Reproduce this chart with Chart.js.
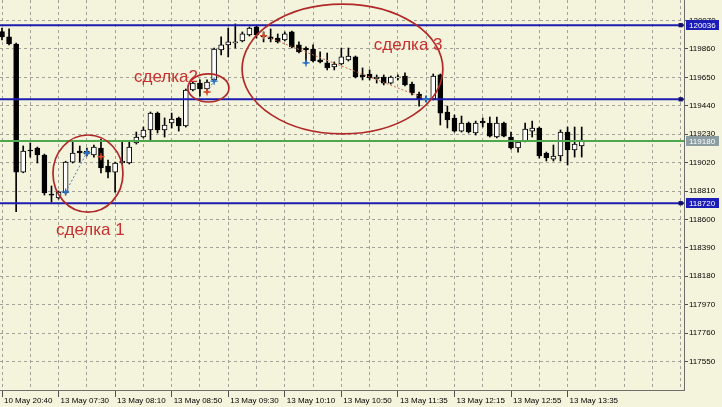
<!DOCTYPE html>
<html><head><meta charset="utf-8">
<script src="https://cdn.jsdelivr.net/npm/chart.js@4.4.1/dist/chart.umd.min.js"></script>
<style>html,body{margin:0;padding:0;background:#f4f4dc;}#wrap{width:722px;height:407px;position:relative;}</style>
</head><body><div id="wrap"><canvas id="c"></canvas></div>
<script>
const categories = [
'10 May 20:40','10 May 20:45','10 May 20:50','10 May 20:55','13 May 07:10','13 May 07:15','13 May 07:20','13 May 07:25',
'13 May 07:30','13 May 07:35','13 May 07:40','13 May 07:45','13 May 07:50','13 May 07:55','13 May 08:00','13 May 08:05',
'13 May 08:10','13 May 08:15','13 May 08:20','13 May 08:25','13 May 08:30','13 May 08:35','13 May 08:40','13 May 08:45',
'13 May 08:50','13 May 08:55','13 May 09:00','13 May 09:05','13 May 09:10','13 May 09:15','13 May 09:20','13 May 09:25',
'13 May 09:30','13 May 09:35','13 May 09:40','13 May 09:45','13 May 09:50','13 May 09:55','13 May 10:00','13 May 10:05',
'13 May 10:10','13 May 10:15','13 May 10:20','13 May 10:25','13 May 10:30','13 May 10:35','13 May 10:40','13 May 10:45',
'13 May 10:50','13 May 10:55','13 May 11:00','13 May 11:05','13 May 11:15','13 May 11:20','13 May 11:25','13 May 11:30',
'13 May 11:35','13 May 11:40','13 May 11:45','13 May 11:50','13 May 11:55','13 May 12:00','13 May 12:05','13 May 12:10',
'13 May 12:15','13 May 12:20','13 May 12:25','13 May 12:30','13 May 12:35','13 May 12:40','13 May 12:45','13 May 12:50',
'13 May 12:55','13 May 13:00','13 May 13:05','13 May 13:10','13 May 13:15','13 May 13:20','13 May 13:25','13 May 13:30',
'13 May 13:35','13 May 13:40','13 May 13:45'];
const opens = [119989,119949,119897,118950,119113,119128,119076,118787,118758,118795,119024,119106,119083,119076,119128,118995,
118950,119017,119017,119165,119209,119261,119386,119261,119313,119350,119291,119557,119608,119564,119631,119853,
119890,119904,119919,119964,120023,119956,119949,119941,119927,119986,119890,119867,119860,119779,119757,119727,
119749,119779,119801,119668,119675,119638,119653,119608,119646,119660,119601,119527,119490,119490,119668,119394,
119350,119253,119313,119239,119327,119313,119209,119313,119209,119128,119180,119253,119276,119091,119046,119069,
119246,119113,119143];
const highs = [120015,120008,119904,119143,119165,119135,119083,118847,118810,119030,119180,119143,119128,119150,119194,119039,
119024,119172,119172,119246,119283,119394,119394,119350,119386,119357,119564,119616,119631,119631,119867,119949,
120015,120045,119986,120023,120030,119986,120008,119971,119986,119993,119912,119875,119890,119838,119830,119764,
119867,119867,119808,119720,119705,119668,119668,119660,119668,119683,119616,119542,119512,119675,119675,119438,
119372,119364,119320,119327,119350,119357,119357,119320,119246,119180,119313,119327,119283,119098,119150,119261,
119283,119283,119283];
const lows = [119927,119890,118657,118945,119061,119017,118780,118728,118750,118787,119017,119024,119069,119061,118943,118906,
118802,119010,119010,119157,119202,119187,119239,119209,119276,119253,119283,119549,119512,119542,119623,119816,
119801,119867,119912,119956,119941,119912,119912,119904,119919,119867,119830,119760,119764,119757,119705,119705,
119742,119771,119646,119631,119631,119608,119594,119601,119631,119586,119520,119438,119470,119483,119298,119276,
119246,119246,119239,119224,119283,119209,119202,119209,119120,119098,119172,119209,119054,119032,119032,119032,
119002,119061,119061];
const closes = [119949,119897,118950,119106,119106,119076,118795,118780,118802,119024,119091,119091,119106,119135,118980,118950,
119017,119032,119135,119209,119261,119386,119261,119298,119342,119291,119557,119608,119564,119616,119860,119890,
119912,119912,119971,120015,119964,119949,119934,119912,119971,119875,119838,119853,119771,119764,119720,119749,
119801,119808,119653,119653,119646,119653,119608,119653,119653,119594,119535,119490,119483,119660,119386,119335,
119253,119313,119246,119313,119313,119216,119313,119216,119128,119172,119268,119276,119069,119054,119069,119246,
119113,119157,119187];
const yTickValues = [117550,117760,117970,118180,118390,118600,118810,119020,119230,119440,119650,119860,120070];
const levelLines = [120036,119488,118720];
const priceLine = 119180;
const buyIdx = [9,12,30,43,60];
const buyPrice = [118802,119093,119623,119757,119490];
const sellIdx = [14,29,37];
const sellPrice = [119064,119542,119959];
const noteTexts = ['сделка 1','сделка2','сделка 3'];

// annotation geometry (in data units)
const notePos = [{x:7.64,y:118485},{x:18.67,y:119616},{x:52.6,y:119853}];
const ellipses = [{cx:12.16,cy:118939,rx:4.95,ry:285},{cx:29.2,cy:119572,rx:2.9,ry:104},{cx:48.16,cy:119712,rx:14.2,ry:480}];

const FONT = "'Liberation Sans', Arial, sans-serif";
Chart.defaults.font.family = FONT;
Chart.defaults.font.size = 8;
Chart.defaults.color = '#000';

const wickData = categories.map((c,i)=>({x:i,y:[lows[i],highs[i]]}));
const bodyData = categories.map((c,i)=>({x:i,y:[opens[i],closes[i]]}));
const bodyFill = categories.map((c,i)=> closes[i]>=opens[i] ? '#ffffff' : '#000000');

function hline(v,color,handle){
  return {type:'line',data:[{x:-1,y:v},{x:96,y:v},{x:98,y:v}],borderColor:color,borderWidth:2,
    pointRadius:handle?[0,3,0]:0,pointStyle:'rect',pointBackgroundColor:'#10106a',pointBorderColor:'#10106a',
    pointBorderWidth:0,order:3};
}
const tradeLine = (a,b,color)=>({type:'line',data:[a,b],borderColor:color,borderWidth:1,borderDash:[2,2],pointRadius:0,order:2});
const markerSet = (idx,price,color)=>[
  {type:'line',data:idx.map((v,k)=>({x:v,y:price[k]})),showLine:false,pointStyle:'rectRot',pointRadius:2.2,pointBorderWidth:0,pointBackgroundColor:color,order:1},
  {type:'line',data:idx.map((v,k)=>({x:v,y:price[k]})),showLine:false,pointStyle:'cross',pointRadius:3.6,pointBorderWidth:1.3,pointBorderColor:color,order:1}
];

const decor = {
  id:'decor',
  afterDatasetsDraw(chart){
    const {ctx, scales:{x,y}} = chart;
    ctx.save();
    ctx.beginPath();
    ctx.rect(chart.chartArea.left,chart.chartArea.top,chart.chartArea.right-chart.chartArea.left,chart.chartArea.bottom-chart.chartArea.top);
    ctx.clip();
    ctx.strokeStyle = '#b02828'; ctx.lineWidth = 1.7;
    for (const e of ellipses){
      const px = x.getPixelForValue(e.cx), py = y.getPixelForValue(e.cy);
      const rx = x.getPixelForValue(e.cx+e.rx)-px, ry = py - y.getPixelForValue(e.cy+e.ry);
      ctx.beginPath(); ctx.ellipse(px,py,rx,ry,0,0,Math.PI*2); ctx.stroke();
    }
    ctx.fillStyle = '#c83030'; ctx.font = '17px '+FONT; ctx.textBaseline='alphabetic'; ctx.textAlign='left';
    noteTexts.forEach((t,k)=>{ ctx.fillText(t, x.getPixelForValue(notePos[k].x), y.getPixelForValue(notePos[k].y)); });
    ctx.restore();
  },
  afterDraw(chart){
    const {ctx, scales:{y}} = chart;
    const items = [[levelLines[0],'#1c1cb8'],[priceLine,'#8c9ea2'],[levelLines[2],'#1c1cb8']];
    ctx.save();
    ctx.font = '8px '+FONT; ctx.textBaseline='middle'; ctx.textAlign='left';
    for (const [v,col] of items){
      const py = Math.round(y.getPixelForValue(v));
      ctx.fillStyle = col; ctx.fillRect(y.left+2, py-5, 33, 10);
      ctx.fillStyle = '#ffffff'; ctx.fillText(String(v), y.left+5, py+0.5);
    }
    ctx.restore();
  }
};

new Chart(document.getElementById('c'), {
  type:'bar',
  data:{datasets:[
    {type:'bar',data:wickData,backgroundColor:'#000',barThickness:1,grouped:false,order:6},
    {type:'bar',data:bodyData,backgroundColor:bodyFill,borderColor:'#000',borderWidth:1,borderSkipped:false,barThickness:5,grouped:false,minBarLength:1,order:5},
    hline(levelLines[0],'#1c1cb0',true),
    hline(levelLines[1],'#1c1cb0',true),
    hline(levelLines[2],'#1c1cb0',true),
    hline(priceLine,'#4ca84c',false),
    tradeLine({x:buyIdx[0],y:buyPrice[0]},{x:buyIdx[1],y:buyPrice[1]},'#3f7cc8'),
    tradeLine({x:sellIdx[1],y:sellPrice[1]},{x:buyIdx[2],y:buyPrice[2]},'#3f7cc8'),
    tradeLine({x:sellIdx[2],y:sellPrice[2]},{x:buyIdx[4],y:buyPrice[4]},'#cc6a48'),
    ...markerSet(buyIdx,buyPrice,'#2a70c4'),
    ...markerSet(sellIdx,sellPrice,'#d84a2a')
  ]},
  options:{
    responsive:true, maintainAspectRatio:false, animation:false, events:[],
    layout:{padding:0,autoPadding:false},
    plugins:{legend:{display:false},tooltip:{enabled:false}},
    scales:{
      x:{type:'linear',min:-0.283,max:96.47,offset:false,
        grid:{offset:false,color:'#a2a29a',lineWidth:1,tickLength:7,
          tickColor:(c)=> (c.tick && c.tick.value%8===0 && c.tick.value<categories.length) ? '#505050' : 'rgba(0,0,0,0)'},
        border:{display:true,color:'#6e6e6e',width:1,dash:[3,3]},
        ticks:{autoSkip:false,maxRotation:0,align:'start',labelOffset:2,padding:-1,color:'#000',
          callback:(v)=> (v%8===0 && categories[v]) ? categories[v] : ''},
        afterBuildTicks:(s)=>{const t=[];for(let v=0;v<=96;v+=4)t.push({value:v});s.ticks=t;},
        afterFit:(s)=>{s.height=17;s.paddingLeft=0;s.paddingRight=0;}
      },
      y:{type:'linear',position:'right',min:117339,max:120222,
        grid:{color:'#a2a29a',lineWidth:1,tickLength:4,tickColor:'#505050'},
        border:{display:true,color:'#6e6e6e',width:1,dash:[3,3]},
        ticks:{padding:1,color:'#000',callback:(v)=>String(v)},
        afterBuildTicks:(s)=>{s.ticks=yTickValues.map(v=>({value:v}));},
        afterFit:(s)=>{s.width=38;s.paddingTop=0;s.paddingBottom=0;}
      }
    }
  },
  plugins:[decor]
});
</script></body></html>
